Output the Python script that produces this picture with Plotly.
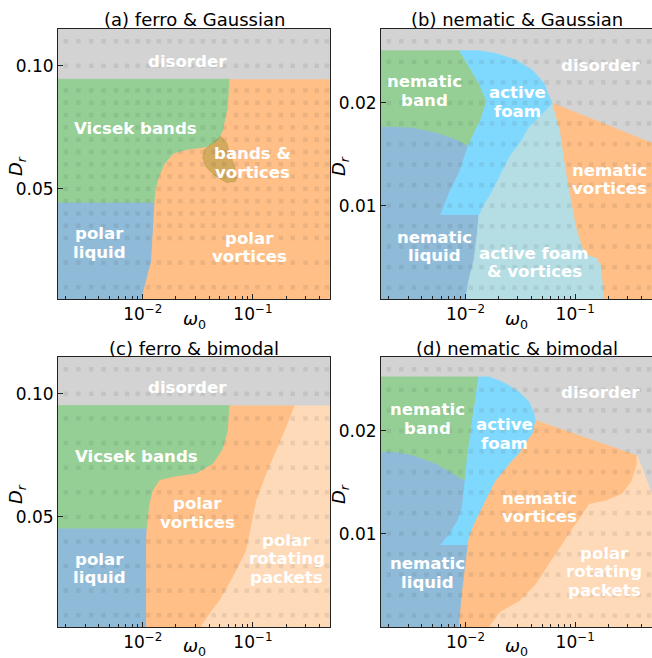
import numpy as np
import plotly.graph_objects as go

# ---------------------------------------------------------------- axes
LOGW_RANGE = [-2.77, -0.30]          # log10(omega_0)
DR_RANGE_FERRO = [0.0052, 0.1150]
DR_RANGE_NEM = [0.0009, 0.0272]

X_TICKS = [0.01, 0.1]
X_TICKTEXT = ["10<sup>\u22122</sup>", "10<sup>\u22121</sup>"]
X_MINOR = [0.002, 0.003, 0.004, 0.005, 0.006, 0.007, 0.008, 0.009,
           0.02, 0.03, 0.04, 0.05, 0.06, 0.07, 0.08, 0.09,
           0.2, 0.3, 0.4, 0.5]
Y_TICKS_FERRO = [0.05, 0.10]
Y_TICKS_NEM = [0.01, 0.02]

# ---------------------------------------------------------------- colours
C_GREEN = "#95cf95"
C_BLUE = "#8fbbd9"
C_ORANGE = "#ffbf86"
C_FOAM = "#7fd9ff"
C_FOAMVORT = "#b4dee4"
C_PEACH = "#ffdab9"
C_MIXED = "rgba(150,140,40,0.42)"
C_DISORDER = "#d3d3d3"

# ---------------------------------------------------------------- sampled points
W_SAMPLES = [0.002, 0.0026, 0.0034, 0.0044, 0.0057, 0.0072, 0.009, 0.0112,
             0.014, 0.0175, 0.022, 0.028, 0.035, 0.044, 0.055, 0.07, 0.088,
             0.11, 0.14, 0.18, 0.23, 0.3, 0.38, 0.47]
DR_ROWS_A = [0.11, 0.10, 0.09, 0.085, 0.08, 0.075, 0.07, 0.065, 0.06, 0.055,
             0.05, 0.045, 0.04, 0.035, 0.03, 0.02, 0.01]
DR_ROWS_C = [0.11, 0.10, 0.09, 0.08, 0.07, 0.06, 0.05, 0.04, 0.03, 0.02, 0.01]
DR_ROWS_NEM = [0.026, 0.024, 0.022, 0.020, 0.018, 0.016, 0.014, 0.012,
               0.010, 0.008, 0.006, 0.004, 0.002]

# ---------------------------------------------------------------- (a) ferro & Gaussian
a_vicsek_w = [-3.0, -1.209, -1.224, -1.270, -1.315, -1.421, -1.603, -1.724,
              -1.800, -1.852, -1.882, -1.891, -3.0]
a_vicsek_d = [0.0946, 0.0946, 0.0831, 0.0736, 0.0695, 0.0668, 0.0657, 0.0641,
              0.0600, 0.0546, 0.0492, 0.0442, 0.0442]
a_liquid_w = [-3.0, -1.891, -1.900, -1.906, -1.921, -1.967, -2.012, -2.020, -3.0]
a_liquid_d = [0.0442, 0.0442, 0.0383, 0.0316, 0.0207, 0.0126, 0.0049, 0.0, 0.0]
a_vort_w = [-1.209, -1.224, -1.270, -1.315, -1.421, -1.603, -1.724, -1.800,
            -1.852, -1.882, -1.891, -1.900, -1.906, -1.921, -1.967, -2.012,
            -2.020, 0.0, 0.0]
a_vort_d = [0.0946, 0.0831, 0.0736, 0.0695, 0.0668, 0.0657, 0.0641, 0.0600,
            0.0546, 0.0492, 0.0442, 0.0383, 0.0316, 0.0207, 0.0126, 0.0049,
            0.0, 0.0, 0.0946]
a_mixed_w = [-1.291, -1.361, -1.436, -1.457, -1.421, -1.345, -1.239, -1.160,
             -1.148, -1.164, -1.209, -1.239]
a_mixed_d = [0.0715, 0.0688, 0.0661, 0.0627, 0.0587, 0.0553, 0.0526, 0.0530,
             0.0545, 0.0587, 0.0641, 0.0688]

# ---------------------------------------------------------------- (b) nematic & Gaussian
b_band_w = [-3.0, -2.058, -1.967, -1.876, -1.806, -1.861, -1.921, -1.976,
            -2.088, -2.270, -2.482, -2.664, -3.0]
b_band_d = [0.02508, 0.02508, 0.02353, 0.02191, 0.02013, 0.01835, 0.01706,
            0.01576, 0.01641, 0.01706, 0.01754, 0.01764, 0.01764]
b_foam_w = [-2.058, -1.876, -1.724, -1.542, -1.391, -1.285, -1.239, -1.209,
            -1.300, -1.421, -1.512, -1.603, -1.679, -1.770, -1.845, -1.876,
            -2.224, -2.148, -2.058, -1.976, -1.921, -1.861, -1.806, -1.876,
            -1.967]
b_foam_d = [0.02508, 0.02508, 0.02482, 0.02417, 0.02320, 0.02191, 0.02061,
            0.01997, 0.01900, 0.01770, 0.01608, 0.01479, 0.01317, 0.01123,
            0.00994, 0.00913, 0.00913, 0.01123, 0.01317, 0.01576, 0.01706,
            0.01835, 0.02013, 0.02191, 0.02353]
b_liquid_w = [-3.0, -2.664, -2.482, -2.270, -2.088, -1.976, -2.058, -2.148,
              -2.224, -1.876, -1.891, -1.921, -1.967, -1.997, -2.0, -3.0]
b_liquid_d = [0.01764, 0.01764, 0.01754, 0.01706, 0.01641, 0.01576, 0.01317,
              0.01123, 0.00913, 0.00913, 0.00735, 0.00476, 0.00282, 0.00097,
              0.0, 0.0]
b_foamvort_w = [-1.209, -1.133, -1.088, -1.034, -0.991, -0.936, -0.876, -0.800,
                -0.761, -0.745, -0.739, -0.735, -2.0, -1.997, -1.967, -1.921,
                -1.891, -1.876, -1.845, -1.770, -1.679, -1.603, -1.512, -1.421,
                -1.300]
b_foamvort_d = [0.01997, 0.01706, 0.01382, 0.01058, 0.00799, 0.00605, 0.00515,
                0.00492, 0.00411, 0.00249, 0.00097, 0.0, 0.0, 0.00097, 0.00282,
                0.00476, 0.00735, 0.00913, 0.00994, 0.01123, 0.01317, 0.01479,
                0.01608, 0.01770, 0.01900]
b_vort_w = [-1.209, -0.30, 0.0, 0.0, -0.735, -0.739, -0.745, -0.761, -0.800,
            -0.876, -0.936, -0.991, -1.034, -1.088, -1.133]
b_vort_d = [0.01997, 0.01608, 0.01480, 0.0, 0.0, 0.00097, 0.00249, 0.00411,
            0.00492, 0.00515, 0.00605, 0.00799, 0.01058, 0.01382, 0.01706]

# ---------------------------------------------------------------- (c) ferro & bimodal
c_vicsek_w = [-3.0, -1.209, -1.224, -1.270, -1.361, -1.512, -1.724, -1.845,
              -1.906, -1.936, -1.952, -1.961, -3.0]
c_vicsek_d = [0.0953, 0.0953, 0.0851, 0.0776, 0.0715, 0.0675, 0.0661, 0.0648,
              0.0607, 0.0553, 0.0499, 0.0451, 0.0451]
c_liquid_w = [-3.0, -1.961, -1.967, -1.967, -3.0]
c_liquid_d = [0.0451, 0.0451, 0.0404, 0.0, 0.0]
c_vort_w = [-1.209, -1.224, -1.270, -1.361, -1.512, -1.724, -1.845, -1.906,
            -1.936, -1.952, -1.961, -1.967, -1.967, -1.490, -1.467, -1.391,
            -1.300, -1.179, -1.058, -1.012, -0.997, -0.967, -0.876, -0.785,
            -0.694, -0.618]
c_vort_d = [0.0953, 0.0851, 0.0776, 0.0715, 0.0675, 0.0661, 0.0648, 0.0607,
            0.0553, 0.0499, 0.0451, 0.0404, 0.0, 0.0, 0.0056, 0.0106, 0.0160,
            0.0255, 0.0363, 0.0472, 0.0499, 0.0566, 0.0675, 0.0770, 0.0864,
            0.0953]
c_packets_w = [-0.618, -0.694, -0.785, -0.876, -0.967, -0.997, -1.012, -1.058,
               -1.179, -1.300, -1.391, -1.467, -1.490, 0.0, 0.0]
c_packets_d = [0.0953, 0.0864, 0.0770, 0.0675, 0.0566, 0.0499, 0.0472, 0.0363,
               0.0255, 0.0160, 0.0106, 0.0056, 0.0, 0.0, 0.0953]

# ---------------------------------------------------------------- (d) nematic & bimodal
d_band_w = [-3.0, -1.882, -1.921, -1.952, -1.982, -2.003, -2.088, -2.270,
            -2.482, -2.648, -3.0]
d_band_d = [0.02526, 0.02526, 0.02232, 0.01971, 0.01742, 0.01513, 0.01562,
            0.01676, 0.01758, 0.01791, 0.01791]
d_foam_w = [-1.882, -1.785, -1.664, -1.512, -1.421, -1.376, -1.361, -1.391,
            -1.452, -1.512, -1.573, -1.648, -1.724, -1.785, -1.861, -1.921,
            -1.967, -1.973, -2.224, -2.148, -2.073, -2.027, -2.012, -2.003,
            -1.982, -1.952, -1.921]
d_foam_d = [0.02526, 0.02526, 0.02477, 0.02379, 0.02281, 0.02167, 0.02069,
            0.01971, 0.01873, 0.01775, 0.01709, 0.01611, 0.01513, 0.01382,
            0.01219, 0.01088, 0.00958, 0.00892, 0.00892, 0.00990, 0.01121,
            0.01268, 0.01415, 0.01513, 0.01742, 0.01971, 0.02232]
d_liquid_w = [-3.0, -2.648, -2.482, -2.270, -2.088, -2.003, -2.012, -2.027,
              -2.073, -2.148, -2.224, -1.973, -1.997, -2.027, -2.058, -2.060,
              -3.0]
d_liquid_d = [0.01791, 0.01791, 0.01758, 0.01676, 0.01562, 0.01513, 0.01415,
              0.01268, 0.01121, 0.00990, 0.00892, 0.00892, 0.00696, 0.00435,
              0.00085, 0.0, 0.0]
d_vort_w = [-1.361, -0.436, -0.436, -0.482, -0.573, -0.724, -0.876, -0.997,
            -1.118, -1.227, -1.361, -1.512, -1.682, -1.785, -1.800, -2.060,
            -2.058, -2.027, -1.997, -1.973, -1.967, -1.921, -1.861, -1.785,
            -1.724, -1.648, -1.573, -1.512, -1.452, -1.391]
d_vort_d = [0.02101, 0.01758, 0.01676, 0.01513, 0.01382, 0.01317, 0.01284,
            0.01088, 0.00892, 0.00716, 0.00500, 0.00337, 0.00235, 0.00085, 0.0,
            0.0, 0.00085, 0.00435, 0.00696, 0.00892, 0.00958, 0.01088, 0.01219,
            0.01382, 0.01513, 0.01611, 0.01709, 0.01775, 0.01873, 0.01971]
d_packets_w = [-0.876, -0.724, -0.573, -0.482, -0.436, -0.436, -0.30, 0.0, 0.0,
               -1.800, -1.785, -1.682, -1.512, -1.361, -1.227, -1.118, -0.997]
d_packets_d = [0.01284, 0.01317, 0.01382, 0.01513, 0.01676, 0.01758, 0.01382,
               0.01382, 0.0, 0.0, 0.00085, 0.00235, 0.00337, 0.00500, 0.00716,
               0.00892, 0.01088]

# ---------------------------------------------------------------- phase labels (text, log10 w, D_r)
A_LABELS = [("disorder", -1.591, 0.1016), ("Vicsek bands", -2.065, 0.0744),
            ("bands &\nvortices", -1.0, 0.0606), ("polar\nliquid", -2.391, 0.0280),
            ("polar\nvortices", -1.027, 0.0262)]
B_LABELS = [("disorder", -0.773, 0.02369), ("nematic\nband", -2.373, 0.02117),
            ("active\nfoam", -1.527, 0.0201), ("nematic\nvortices", -0.691, 0.01252),
            ("nematic\nliquid", -2.282, 0.00602), ("active foam\n& vortices", -1.373, 0.00447)]
C_LABELS = [("disorder", -1.591, 0.1024), ("Vicsek bands", -2.055, 0.0744),
            ("polar\nvortices", -1.50, 0.0516), ("polar\nliquid", -2.391, 0.0289),
            ("polar\nrotating\npackets", -0.691, 0.0329)]
D_LABELS = [("disorder", -0.773, 0.02373), ("nematic\nband", -2.345, 0.02118),
            ("active\nfoam", -1.645, 0.01971), ("nematic\nvortices", -1.327, 0.01255),
            ("nematic\nliquid", -2.345, 0.00618), ("polar\nrotating\npackets", -0.736, 0.00627)]

TITLES = ["(a) ferro &amp; Gaussian", "(b) nematic &amp; Gaussian",
          "(c) ferro &amp; bimodal", "(d) nematic &amp; bimodal"]

# ---------------------------------------------------------------- figure geometry
W, H = 652, 658
X_DOM = [[58 / W, 330 / W], [381 / W, 1.0], [58 / W, 330 / W], [381 / W, 1.0]]
Y_DOM = [[1 - 299 / H, 1 - 29 / H], [1 - 299 / H, 1 - 29 / H],
         [1 - 627 / H, 1 - 357 / H], [1 - 627 / H, 1 - 357 / H]]
AXIS_COLOR = "#222222"
FONT = "DejaVu Sans"

fig = go.Figure()


def add_region(logw, dr, color, k):
    fig.add_trace(go.Scatter(
        x=10 ** np.asarray(logw), y=dr, mode="lines", fill="toself",
        fillcolor=color, line=dict(width=0.8, color=color),
        hoverinfo="skip", showlegend=False,
        xaxis="x" if k == 1 else f"x{k}", yaxis="y" if k == 1 else f"y{k}"))


def add_samples(rows, k):
    ww, dd = np.meshgrid(W_SAMPLES, rows)
    fig.add_trace(go.Scatter(
        x=ww.ravel(), y=dd.ravel(), mode="markers",
        marker=dict(symbol="square", size=4.5, color="rgba(70,70,70,0.11)",
                    line=dict(width=0)),
        hoverinfo="skip", showlegend=False, cliponaxis=True,
        xaxis="x" if k == 1 else f"x{k}", yaxis="y" if k == 1 else f"y{k}"))


# (a)
add_region(a_vicsek_w, a_vicsek_d, C_GREEN, 1)
add_region(a_liquid_w, a_liquid_d, C_BLUE, 1)
add_region(a_vort_w, a_vort_d, C_ORANGE, 1)
add_region(a_mixed_w, a_mixed_d, C_MIXED, 1)
add_samples(DR_ROWS_A, 1)
# (b)
add_region(b_band_w, b_band_d, C_GREEN, 2)
add_region(b_liquid_w, b_liquid_d, C_BLUE, 2)
add_region(b_foamvort_w, b_foamvort_d, C_FOAMVORT, 2)
add_region(b_foam_w, b_foam_d, C_FOAM, 2)
add_region(b_vort_w, b_vort_d, C_ORANGE, 2)
add_samples(DR_ROWS_NEM, 2)
# (c)
add_region(c_vicsek_w, c_vicsek_d, C_GREEN, 3)
add_region(c_liquid_w, c_liquid_d, C_BLUE, 3)
add_region(c_vort_w, c_vort_d, C_ORANGE, 3)
add_region(c_packets_w, c_packets_d, C_PEACH, 3)
add_samples(DR_ROWS_C, 3)
# (d)
add_region(d_band_w, d_band_d, C_GREEN, 4)
add_region(d_liquid_w, d_liquid_d, C_BLUE, 4)
add_region(d_foam_w, d_foam_d, C_FOAM, 4)
add_region(d_vort_w, d_vort_d, C_ORANGE, 4)
add_region(d_packets_w, d_packets_d, C_PEACH, 4)
add_samples(DR_ROWS_NEM, 4)

layout = dict(
    width=W, height=H, margin=dict(l=0, r=0, t=0, b=0),
    paper_bgcolor="white", plot_bgcolor=C_DISORDER, showlegend=False,
    font=dict(family=FONT, color="black"),
)

y_ranges = [DR_RANGE_FERRO, DR_RANGE_NEM, DR_RANGE_FERRO, DR_RANGE_NEM]
y_ticks = [Y_TICKS_FERRO, Y_TICKS_NEM, Y_TICKS_FERRO, Y_TICKS_NEM]
for k in range(1, 5):
    sx = "xaxis" if k == 1 else f"xaxis{k}"
    sy = "yaxis" if k == 1 else f"yaxis{k}"
    layout[sx] = dict(
        type="log", range=LOGW_RANGE, domain=X_DOM[k - 1],
        anchor="y" if k == 1 else f"y{k}",
        tickmode="array", tickvals=X_TICKS, ticktext=X_TICKTEXT,
        ticks="inside", ticklen=5, tickwidth=1, tickcolor=AXIS_COLOR,
        minor=dict(tickmode="array", tickvals=X_MINOR, ticks="inside",
                   ticklen=3, tickwidth=0.8, tickcolor=AXIS_COLOR, showgrid=False),
        showline=True, linecolor=AXIS_COLOR, linewidth=1, mirror=True,
        showgrid=False, zeroline=False,
        tickfont=dict(family=FONT, size=17, color="black"),
    )
    yt = y_ticks[k - 1]
    layout[sy] = dict(
        range=y_ranges[k - 1], domain=Y_DOM[k - 1],
        anchor="x" if k == 1 else f"x{k}",
        tickmode="array", tickvals=yt, ticktext=[f"{v:.2f}" for v in yt],
        ticks="inside", ticklen=5, tickwidth=1, tickcolor=AXIS_COLOR,
        showline=True, linecolor=AXIS_COLOR, linewidth=1, mirror=True,
        showgrid=False, zeroline=False,
        tickfont=dict(family=FONT, size=17, color="black"),
    )

annotations = []
LINE_GAP = 18.5
for k, labels in enumerate([A_LABELS, B_LABELS, C_LABELS, D_LABELS], start=1):
    xr = "x" if k == 1 else f"x{k}"
    yr = "y" if k == 1 else f"y{k}"
    for text, lw, dr in labels:
        lines = text.split("\n")
        n = len(lines)
        for i, line in enumerate(lines):
            annotations.append(dict(
                text=f"<b>{line.replace('&', '&amp;')}</b>", x=lw, y=dr,
                xref=xr, yref=yr, showarrow=False,
                xanchor="center", yanchor="middle",
                yshift=((n - 1) / 2 - i) * LINE_GAP,
                font=dict(family=FONT, size=16.6, color="white")))

# panel titles and axis titles
title_y = [20, 20, 349, 349]
xlab_y = [320, 320, 647, 647]
ylab_x = [17, 340, 17, 340]
ylab_y = [166, 166, 494, 494]
for k in range(4):
    xc = (X_DOM[k][0] + X_DOM[k][1]) / 2
    if k in (1, 3):
        xc = (381 + 652) / 2 / W
    annotations.append(dict(
        text=TITLES[k], x=xc, y=1 - title_y[k] / H, xref="paper", yref="paper",
        showarrow=False, xanchor="center", yanchor="middle",
        font=dict(family=FONT, size=18, color="black")))
    annotations.append(dict(
        text="<i>\u03c9</i><sub>0</sub>", x=xc, y=1 - xlab_y[k] / H,
        xref="paper", yref="paper", showarrow=False,
        xanchor="center", yanchor="middle",
        font=dict(family=FONT, size=18, color="black")))
    annotations.append(dict(
        text="<i>D</i><sub><i>r</i></sub>", x=ylab_x[k] / W, y=1 - ylab_y[k] / H,
        xref="paper", yref="paper", showarrow=False, textangle=-90,
        xanchor="center", yanchor="middle",
        font=dict(family=FONT, size=18, color="black")))

layout["annotations"] = annotations
fig.update_layout(**layout)
fig.write_html("out.html")
